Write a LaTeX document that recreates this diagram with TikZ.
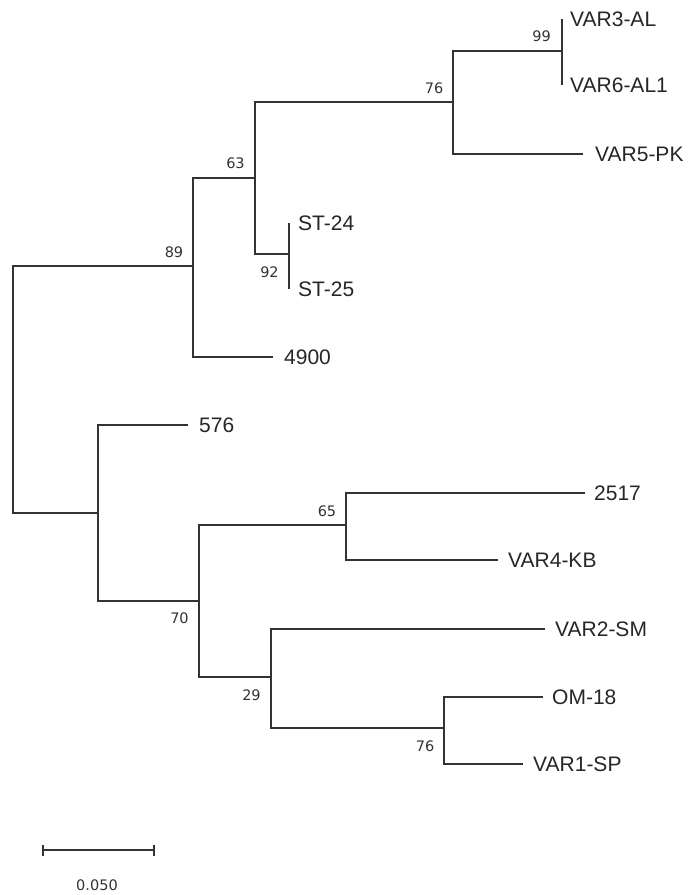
\documentclass[tikz,border=0pt]{standalone}
\usepackage{fontspec}
\setmainfont{Liberation Sans}
\newfontfamily\bsfont{DejaVu Sans}
\begin{document}
\begin{tikzpicture}[x=1pt,y=-1pt,
  branch/.style={line width=1.2pt, draw=black!80},
  leaf/.style={anchor=west, inner ysep=0pt, text depth=0pt, text height=15pt, text=black!85,
    font=\fontsize{21}{24}\selectfont, yshift=-1pt},
  boot/.style={inner sep=0pt, text=black!80, font=\bsfont\fontsize{14.5}{16}\selectfont, text height=10.6pt, text depth=0pt}]
\useasboundingbox (0,0) rectangle (691,895);
\fill[white] (0,0) rectangle (691,895);
% internal nodes
\coordinate (root) at (13,390);
\coordinate (n89) at (193,266);
\coordinate (n63) at (255,178);
\coordinate (n76a) at (453,102);
\coordinate (n99) at (562,51);
\coordinate (n92) at (289,254);
\coordinate (nL) at (98,513);
\coordinate (n70) at (199,601);
\coordinate (n65) at (346,525);
\coordinate (n29) at (271,677);
\coordinate (n76b) at (444,728);
% leaves
\node[leaf, inner xsep=8pt] (var3) at (562,18) {VAR3-AL};
\node[leaf, inner xsep=8pt] (var6) at (562,84) {VAR6-AL1};
\node[leaf, inner xsep=12pt] (var5) at (583,153) {VAR5-PK};
\node[leaf, inner xsep=9pt] (st24) at (289,222) {ST-24};
\node[leaf, inner xsep=9pt] (st25) at (289,288) {ST-25};
\node[leaf, inner xsep=11pt] (l4900) at (273,356) {4900};
\node[leaf, inner xsep=11pt] (l576) at (188,424) {576};
\node[leaf, inner xsep=9pt] (l2517) at (585,492) {2517};
\node[leaf, inner xsep=10pt] (var4) at (498,559) {VAR4-KB};
\node[leaf, inner xsep=10pt] (var2) at (545,628) {VAR2-SM};
\node[leaf, inner xsep=9pt] (om18) at (543,696) {OM-18};
\node[leaf, inner xsep=10pt] (var1) at (523,763) {VAR1-SP};
% branches
\draw[branch] (root) |- (n89);
\draw[branch] (root) |- (nL);
\draw[branch] (n89) |- (n63);
\draw[branch] (n89) |- (l4900.west);
\draw[branch] (n63) |- (n76a);
\draw[branch] (n63) |- (n92);
\draw[branch] (n76a) |- (n99);
\draw[branch] (n76a) |- (var5.west);
\draw[branch] (n99) |- (var3.west);
\draw[branch] (n99) |- (var6.west);
\draw[branch] (n92) |- (st24.west);
\draw[branch] (n92) |- (st25.west);
\draw[branch] (nL) |- (l576.west);
\draw[branch] (nL) |- (n70);
\draw[branch] (n70) |- (n65);
\draw[branch] (n70) |- (n29);
\draw[branch] (n65) |- (l2517.west);
\draw[branch] (n65) |- (var4.west);
\draw[branch] (n29) |- (var2.west);
\draw[branch] (n29) |- (n76b);
\draw[branch] (n76b) |- (om18.west);
\draw[branch] (n76b) |- (var1.west);
% bootstrap values
\node[boot] (b99) at (541.5,36.5) {99};
\node[boot] (b76a) at (434,88) {76};
\node[boot] (b63) at (235.5,163.5) {63};
\node[boot] (b92) at (269.5,272.5) {92};
\node[boot] (b89) at (174,252.5) {89};
\node[boot] (b65) at (327,511.5) {65};
\node[boot] (b70) at (179.5,618.5) {70};
\node[boot] (b29) at (251.5,695) {29};
\node[boot] (b76b) at (425,746) {76};
% scale bar
\coordinate (sb1) at (43,850);
\coordinate (sb2) at (154,850);
\draw[branch] (sb1) -- (sb2);
\draw[branch] ([yshift=-5.5pt]sb1) -- ([yshift=5.5pt]sb1);
\draw[branch] ([yshift=-5.5pt]sb2) -- ([yshift=5.5pt]sb2);
\node[boot] (scalelbl) at (97,885.5) {0.050};
\end{tikzpicture}
\end{document}
